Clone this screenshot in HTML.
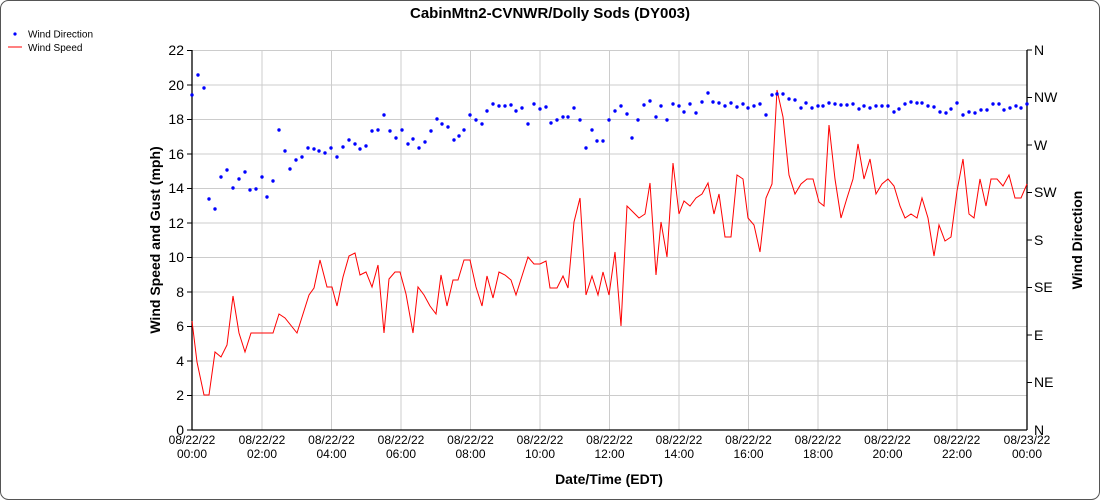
<!DOCTYPE html>
<html><head><meta charset="utf-8"><style>
html,body{margin:0;padding:0;background:#fff}
svg{display:block;font-family:"Liberation Sans",sans-serif}
</style></head><body>
<svg width="1100" height="500" viewBox="0 0 1100 500">
<rect x="0.5" y="0.5" width="1099" height="499" rx="8" fill="#fff" stroke="#555"/>
<text x="550" y="18" text-anchor="middle" font-size="15" font-weight="bold">CabinMtn2-CVNWR/Dolly Sods (DY003)</text>
<circle cx="15" cy="34" r="1.6" fill="#00f"/>
<text x="28" y="37.5" font-size="10">Wind Direction</text>
<line x1="8" y1="47" x2="22" y2="47" stroke="red"/>
<text x="28" y="51" font-size="10">Wind Speed</text>
<g stroke="#ccc" stroke-width="1">
<line x1="192" x2="1027" y1="50.5" y2="50.5"/><line x1="192" x2="1027" y1="85" y2="85"/><line x1="192" x2="1027" y1="119.5" y2="119.5"/><line x1="192" x2="1027" y1="154" y2="154"/><line x1="192" x2="1027" y1="188.5" y2="188.5"/><line x1="192" x2="1027" y1="223" y2="223"/><line x1="192" x2="1027" y1="257.5" y2="257.5"/><line x1="192" x2="1027" y1="292" y2="292"/><line x1="192" x2="1027" y1="326.5" y2="326.5"/><line x1="192" x2="1027" y1="361" y2="361"/><line x1="192" x2="1027" y1="395.5" y2="395.5"/>
<line y1="50" y2="430" x1="262" x2="262"/><line y1="50" y2="430" x1="331.5" x2="331.5"/><line y1="50" y2="430" x1="401" x2="401"/><line y1="50" y2="430" x1="470.5" x2="470.5"/><line y1="50" y2="430" x1="540" x2="540"/><line y1="50" y2="430" x1="609.5" x2="609.5"/><line y1="50" y2="430" x1="679" x2="679"/><line y1="50" y2="430" x1="748.5" x2="748.5"/><line y1="50" y2="430" x1="818" x2="818"/><line y1="50" y2="430" x1="887.5" x2="887.5"/><line y1="50" y2="430" x1="957" x2="957"/>
</g>
<g stroke="#000" stroke-width="1.3">
<line x1="192" y1="50" x2="192" y2="430"/><line x1="1027" y1="50" x2="1027" y2="430"/><line x1="192" y1="430" x2="1027" y2="430"/>
</g>
<g stroke="#000">
<line x1="187" x2="192" y1="50.5" y2="50.5"/><line x1="187" x2="192" y1="85" y2="85"/><line x1="187" x2="192" y1="119.5" y2="119.5"/><line x1="187" x2="192" y1="154" y2="154"/><line x1="187" x2="192" y1="188.5" y2="188.5"/><line x1="187" x2="192" y1="223" y2="223"/><line x1="187" x2="192" y1="257.5" y2="257.5"/><line x1="187" x2="192" y1="292" y2="292"/><line x1="187" x2="192" y1="326.5" y2="326.5"/><line x1="187" x2="192" y1="361" y2="361"/><line x1="187" x2="192" y1="395.5" y2="395.5"/><line x1="187" x2="192" y1="430" y2="430"/>
<line x1="1027" x2="1032" y1="50" y2="50"/><line x1="1027" x2="1032" y1="97.5" y2="97.5"/><line x1="1027" x2="1032" y1="145" y2="145"/><line x1="1027" x2="1032" y1="192.5" y2="192.5"/><line x1="1027" x2="1032" y1="240" y2="240"/><line x1="1027" x2="1032" y1="287.5" y2="287.5"/><line x1="1027" x2="1032" y1="335" y2="335"/><line x1="1027" x2="1032" y1="382.5" y2="382.5"/>
</g>
<g font-size="14" text-anchor="end">
<text x="184" y="55">22</text><text x="184" y="90">20</text><text x="184" y="124">18</text><text x="184" y="159">16</text><text x="184" y="193">14</text><text x="184" y="228">12</text><text x="184" y="262">10</text><text x="184" y="297">8</text><text x="184" y="331">6</text><text x="184" y="366">4</text><text x="184" y="400">2</text><text x="184" y="435">0</text>
</g>
<g font-size="14">
<text x="1034" y="55">N</text><text x="1034" y="102">NW</text><text x="1034" y="150">W</text><text x="1034" y="197">SW</text><text x="1034" y="245">S</text><text x="1034" y="292">SE</text><text x="1034" y="340">E</text><text x="1034" y="387">NE</text><text x="1034" y="435">N</text>
</g>
<g font-size="12" text-anchor="middle">
<text x="192" y="444">08/22/22</text><text x="192" y="458">00:00</text>
<text x="262" y="444">08/22/22</text><text x="262" y="458">02:00</text>
<text x="331.5" y="444">08/22/22</text><text x="331.5" y="458">04:00</text>
<text x="401" y="444">08/22/22</text><text x="401" y="458">06:00</text>
<text x="470.5" y="444">08/22/22</text><text x="470.5" y="458">08:00</text>
<text x="540" y="444">08/22/22</text><text x="540" y="458">10:00</text>
<text x="609.5" y="444">08/22/22</text><text x="609.5" y="458">12:00</text>
<text x="679" y="444">08/22/22</text><text x="679" y="458">14:00</text>
<text x="748.5" y="444">08/22/22</text><text x="748.5" y="458">16:00</text>
<text x="818" y="444">08/22/22</text><text x="818" y="458">18:00</text>
<text x="887.5" y="444">08/22/22</text><text x="887.5" y="458">20:00</text>
<text x="957" y="444">08/22/22</text><text x="957" y="458">22:00</text>
<text x="1027" y="444">08/23/22</text><text x="1027" y="458">00:00</text>
</g>
<text x="609" y="484" font-size="14" font-weight="bold" text-anchor="middle">Date/Time (EDT)</text>
<text transform="translate(160,240) rotate(-90)" font-size="14" font-weight="bold" text-anchor="middle">Wind Speed and Gust (mph)</text>
<text transform="translate(1082,240) rotate(-90)" font-size="14" font-weight="bold" text-anchor="middle">Wind Direction</text>
<polyline fill="none" stroke="red" stroke-width="1" points="192,321 197,362 204,395 209,395 215,352 221,357 227,345 233,296 239,333 245,352 251,333 262,333 273,333 279,314 285,318 297,333 309,295 314,288 320,260 327,287 332,287 337,306 343,277 349,256 355,253 360,275 366,272 372,287 378,265 384,333 389,279 395,272 400,272 406,294 413,333 418,287 424,295 430,306 436,314 441,275 447,306 453,280 458,280 464,260 470,260 476,287 482,306 487,276 493,298 499,272 505,275 511,280 516,295 522,276 528,257 534,264 540,264 546,261 550,288 557,288 563,276 568,288 574,222 580,198 586,295 592,276 598,295 603,272 609,295 615,252 621,326 627,206 633,212 639,218 645,214 650,183 656,275 661,222 667,257 673,163 679,214 684,201 690,206 696,198 702,194 708,183 714,214 719,194 725,237 731,237 737,175 743,179 748,218 754,225 760,252 766,198 772,184 777,90 783,117 789,175 795,194 801,184 807,179 813,179 819,202 824,206 829,125 835,179 841,218 847,198 853,179 858,144 864,179 870,159 876,194 882,184 888,179 894,186 900,206 905,218 911,214 917,218 922,198 928,218 934,256 939,225 945,241 951,237 957,191 963,159 969,214 974,218 980,179 986,206 991,179 997,179 1003,186 1009,175 1015,198 1021,198 1027,184"/>
<g fill="#00f">
<circle cx="192" cy="95" r="1.7"/><circle cx="198" cy="75" r="1.7"/><circle cx="204" cy="88" r="1.7"/><circle cx="209" cy="199" r="1.7"/><circle cx="215" cy="209" r="1.7"/><circle cx="221" cy="177" r="1.7"/><circle cx="227" cy="170" r="1.7"/><circle cx="233" cy="188" r="1.7"/><circle cx="239" cy="179" r="1.7"/><circle cx="245" cy="172" r="1.7"/><circle cx="250" cy="190" r="1.7"/><circle cx="256" cy="189" r="1.7"/><circle cx="262" cy="177" r="1.7"/><circle cx="267" cy="197" r="1.7"/><circle cx="273" cy="181" r="1.7"/><circle cx="279" cy="130" r="1.7"/><circle cx="285" cy="151" r="1.7"/><circle cx="290" cy="169" r="1.7"/><circle cx="296" cy="160" r="1.7"/><circle cx="302" cy="157" r="1.7"/><circle cx="308" cy="148" r="1.7"/><circle cx="314" cy="149" r="1.7"/><circle cx="319" cy="151" r="1.7"/><circle cx="325" cy="153" r="1.7"/><circle cx="331" cy="148" r="1.7"/><circle cx="337" cy="157" r="1.7"/><circle cx="343" cy="147" r="1.7"/><circle cx="349" cy="140" r="1.7"/><circle cx="355" cy="144" r="1.7"/><circle cx="360" cy="149" r="1.7"/><circle cx="366" cy="146" r="1.7"/><circle cx="372" cy="131" r="1.7"/><circle cx="378" cy="130" r="1.7"/><circle cx="384" cy="115" r="1.7"/><circle cx="390" cy="131" r="1.7"/><circle cx="396" cy="138" r="1.7"/><circle cx="402" cy="130" r="1.7"/><circle cx="408" cy="144" r="1.7"/><circle cx="413" cy="139" r="1.7"/><circle cx="419" cy="148" r="1.7"/><circle cx="425" cy="142" r="1.7"/><circle cx="431" cy="131" r="1.7"/><circle cx="437" cy="119" r="1.7"/><circle cx="442" cy="124" r="1.7"/><circle cx="448" cy="127" r="1.7"/><circle cx="454" cy="140" r="1.7"/><circle cx="459" cy="136" r="1.7"/><circle cx="464" cy="130" r="1.7"/><circle cx="470" cy="115" r="1.7"/><circle cx="476" cy="120" r="1.7"/><circle cx="482" cy="124" r="1.7"/><circle cx="487" cy="111" r="1.7"/><circle cx="493" cy="104" r="1.7"/><circle cx="499" cy="106" r="1.7"/><circle cx="505" cy="106" r="1.7"/><circle cx="511" cy="105" r="1.7"/><circle cx="516" cy="111" r="1.7"/><circle cx="522" cy="108" r="1.7"/><circle cx="528" cy="124" r="1.7"/><circle cx="534" cy="104" r="1.7"/><circle cx="540" cy="109" r="1.7"/><circle cx="546" cy="107" r="1.7"/><circle cx="551" cy="123" r="1.7"/><circle cx="557" cy="120" r="1.7"/><circle cx="563" cy="117" r="1.7"/><circle cx="568" cy="117" r="1.7"/><circle cx="574" cy="108" r="1.7"/><circle cx="580" cy="120" r="1.7"/><circle cx="586" cy="148" r="1.7"/><circle cx="592" cy="130" r="1.7"/><circle cx="597" cy="141" r="1.7"/><circle cx="603" cy="141" r="1.7"/><circle cx="609" cy="120" r="1.7"/><circle cx="615" cy="111" r="1.7"/><circle cx="621" cy="106" r="1.7"/><circle cx="627" cy="114" r="1.7"/><circle cx="632" cy="138" r="1.7"/><circle cx="638" cy="120" r="1.7"/><circle cx="644" cy="105" r="1.7"/><circle cx="650" cy="101" r="1.7"/><circle cx="656" cy="117" r="1.7"/><circle cx="661" cy="106" r="1.7"/><circle cx="667" cy="120" r="1.7"/><circle cx="673" cy="104" r="1.7"/><circle cx="679" cy="106" r="1.7"/><circle cx="684" cy="112" r="1.7"/><circle cx="690" cy="104" r="1.7"/><circle cx="696" cy="113" r="1.7"/><circle cx="702" cy="102" r="1.7"/><circle cx="708" cy="93" r="1.7"/><circle cx="713" cy="102" r="1.7"/><circle cx="719" cy="103" r="1.7"/><circle cx="725" cy="106" r="1.7"/><circle cx="731" cy="103" r="1.7"/><circle cx="737" cy="107" r="1.7"/><circle cx="743" cy="104" r="1.7"/><circle cx="748" cy="108" r="1.7"/><circle cx="754" cy="106" r="1.7"/><circle cx="760" cy="104" r="1.7"/><circle cx="766" cy="115" r="1.7"/><circle cx="772" cy="95" r="1.7"/><circle cx="777" cy="94" r="1.7"/><circle cx="783" cy="94" r="1.7"/><circle cx="789" cy="99" r="1.7"/><circle cx="795" cy="100" r="1.7"/><circle cx="801" cy="108" r="1.7"/><circle cx="806" cy="103" r="1.7"/><circle cx="812" cy="108" r="1.7"/><circle cx="818" cy="106" r="1.7"/><circle cx="823" cy="106" r="1.7"/><circle cx="829" cy="103" r="1.7"/><circle cx="835" cy="104" r="1.7"/><circle cx="841" cy="105" r="1.7"/><circle cx="847" cy="105" r="1.7"/><circle cx="853" cy="104" r="1.7"/><circle cx="859" cy="109" r="1.7"/><circle cx="864" cy="106" r="1.7"/><circle cx="870" cy="108" r="1.7"/><circle cx="876" cy="106" r="1.7"/><circle cx="882" cy="106" r="1.7"/><circle cx="888" cy="106" r="1.7"/><circle cx="894" cy="112" r="1.7"/><circle cx="899" cy="109" r="1.7"/><circle cx="905" cy="104" r="1.7"/><circle cx="911" cy="102" r="1.7"/><circle cx="917" cy="103" r="1.7"/><circle cx="922" cy="103" r="1.7"/><circle cx="928" cy="106" r="1.7"/><circle cx="934" cy="107" r="1.7"/><circle cx="940" cy="112" r="1.7"/><circle cx="946" cy="113" r="1.7"/><circle cx="951" cy="109" r="1.7"/><circle cx="957" cy="103" r="1.7"/><circle cx="963" cy="115" r="1.7"/><circle cx="969" cy="112" r="1.7"/><circle cx="975" cy="113" r="1.7"/><circle cx="981" cy="110" r="1.7"/><circle cx="987" cy="110" r="1.7"/><circle cx="993" cy="104" r="1.7"/><circle cx="999" cy="104" r="1.7"/><circle cx="1004" cy="110" r="1.7"/><circle cx="1010" cy="108" r="1.7"/><circle cx="1016" cy="106" r="1.7"/><circle cx="1021" cy="108" r="1.7"/><circle cx="1027" cy="104" r="1.7"/>
</g>
</svg>
</body></html>
